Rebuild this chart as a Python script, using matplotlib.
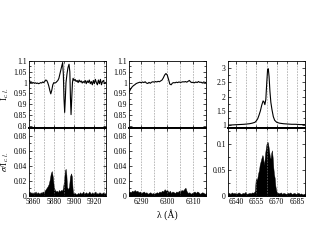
import numpy as np
import matplotlib
matplotlib.use("Agg")
import matplotlib.pyplot as plt
from matplotlib.ticker import MultipleLocator

plt.rcParams['font.family'] = ['Liberation Serif', 'DejaVu Serif']
plt.rcParams['mathtext.fontset'] = 'stix'

# ---------------- Panel 1 (Na D / He I region) ----------------
wl1_up = [5855, 5856, 5857, 5858, 5859, 5860, 5861, 5862, 5863, 5864, 5865, 5866, 5867, 5868,
          5869, 5870, 5871, 5872, 5873, 5874, 5875, 5876, 5877, 5878, 5879, 5880, 5881, 5882,
          5883, 5884, 5885, 5886, 5887, 5888, 5888.7, 5889.4, 5890, 5890.7, 5891.4, 5892, 5893,
          5894, 5895, 5895.8, 5896.4, 5897, 5897.7, 5898.4, 5899, 5900, 5901, 5902, 5903, 5904,
          5905, 5906, 5907, 5908, 5909, 5910, 5911, 5912, 5913, 5914, 5915, 5916, 5917, 5918,
          5919, 5920, 5921, 5922, 5923, 5924, 5925, 5926, 5927, 5928, 5929, 5930, 5931]
fl1_up = [1.005, 1.01, 1.0, 1.003, 0.998, 1.0, 0.997, 0.999, 0.996, 0.998, 0.995, 0.997, 1.0, 0.998,
          1.003, 1.0, 1.005, 1.012, 1.01, 1.0, 0.985, 0.965, 0.948, 0.965, 0.99, 1.0, 0.998, 1.0,
          1.005, 1.01, 1.02, 1.04, 1.06, 1.08, 1.092, 1.04, 0.93, 0.862, 0.93, 1.0, 1.04,
          1.07, 1.085, 1.05, 0.93, 0.852, 0.93, 1.0, 1.02, 1.01, 1.015, 1.005, 1.01, 1.0,
          1.012, 1.003, 1.008, 0.998, 1.005, 1.0, 1.01, 0.995, 1.008, 1.0, 1.012, 0.995, 1.005, 0.99,
          1.01, 0.995, 1.015, 1.0, 0.99, 1.012, 0.995, 1.015, 0.99, 1.005, 1.01, 0.995, 1.0]

wl1_lo = [5855, 5856, 5857, 5858, 5859, 5860, 5861, 5862, 5863, 5864, 5865, 5866, 5867, 5868,
          5869, 5870, 5871, 5872, 5873, 5874, 5875, 5876, 5877, 5878, 5879, 5880, 5881, 5882,
          5883, 5884, 5885, 5886, 5887, 5888, 5889, 5890, 5891, 5891.7, 5892.4, 5893, 5894, 5895,
          5896, 5897, 5897.8, 5898.5, 5899, 5900, 5901, 5902, 5903, 5904, 5905, 5906, 5907, 5908,
          5909, 5910, 5911, 5912, 5913, 5914, 5915, 5916, 5917, 5918, 5919, 5920, 5921, 5922,
          5923, 5924, 5925, 5926, 5927, 5928, 5929, 5930, 5931]
sg1_lo = [0.004, 0.006, 0.004, 0.005, 0.003, 0.005, 0.004, 0.006, 0.003, 0.005, 0.004, 0.003, 0.005, 0.004,
          0.006, 0.005, 0.007, 0.009, 0.011, 0.013, 0.016, 0.022, 0.030, 0.033, 0.025, 0.012, 0.008, 0.006,
          0.007, 0.005, 0.008, 0.006, 0.008, 0.007, 0.010, 0.020, 0.034, 0.036, 0.028, 0.012, 0.009, 0.012,
          0.026, 0.030, 0.026, 0.010, 0.004, 0.003, 0.004, 0.002, 0.003, 0.004, 0.003, 0.005, 0.003, 0.004,
          0.006, 0.003, 0.004, 0.005, 0.003, 0.004, 0.006, 0.004, 0.003, 0.005, 0.003, 0.004, 0.006, 0.003,
          0.004, 0.003, 0.005, 0.004, 0.003, 0.004, 0.005, 0.003, 0.004]

# ---------------- Panel 2 ([O I] 6300 region) ----------------
wl2 = [6285, 6285.5, 6286, 6286.5, 6287, 6287.5, 6288, 6288.5, 6289, 6289.5, 6290, 6290.5, 6291,
       6291.5, 6292, 6292.5, 6293, 6293.5, 6294, 6294.5, 6295, 6295.5, 6296, 6296.5, 6297, 6297.5,
       6298, 6298.5, 6299, 6299.5, 6300, 6300.5, 6301, 6301.5, 6302, 6302.5, 6303, 6303.5, 6304,
       6304.5, 6305, 6305.5, 6306, 6306.5, 6307, 6307.5, 6308, 6308.5, 6309, 6309.5, 6310, 6310.5,
       6311, 6311.5, 6312, 6312.5, 6313, 6313.5, 6314, 6314.5, 6315]
fl2_up = [0.95, 0.96, 0.972, 0.98, 0.986, 0.99, 0.995, 0.998, 1.0, 1.002, 0.999, 1.003, 1.0,
          1.004, 0.998, 0.996, 1.001, 0.997, 1.002, 1.004, 1.002, 1.005, 1.003, 1.006, 1.004, 1.008,
          1.012, 1.022, 1.035, 1.042, 1.035, 1.015, 0.993, 0.99, 0.998, 1.0, 0.999, 1.002, 1.0,
          1.003, 1.001, 1.002, 1.004, 1.003, 1.005, 1.002, 1.006, 1.01, 1.003, 1.0, 1.002, 0.999,
          1.003, 1.0, 1.005, 1.001, 1.002, 0.998, 1.003, 1.001, 1.0]
sg2_lo = [0.004, 0.006, 0.005, 0.007, 0.006, 0.008, 0.006, 0.007, 0.005, 0.006, 0.004, 0.005, 0.006,
          0.004, 0.005, 0.003, 0.004, 0.005, 0.003, 0.004, 0.003, 0.004, 0.005, 0.004, 0.006, 0.005,
          0.007, 0.006, 0.009, 0.007, 0.008, 0.005, 0.007, 0.004, 0.006, 0.005, 0.004, 0.006, 0.005,
          0.007, 0.006, 0.008, 0.007, 0.009, 0.011, 0.006, 0.004, 0.005, 0.003, 0.004, 0.005, 0.006,
          0.004, 0.006, 0.005, 0.003, 0.004, 0.005, 0.004, 0.003, 0.004]

# ---------------- Panel 3 (H-alpha region) ----------------
wl3_up = [6534, 6536, 6538, 6540, 6542, 6544, 6546, 6548, 6550, 6552, 6554, 6555, 6556, 6557,
          6558, 6559, 6560, 6560.6, 6561.3, 6562, 6562.7, 6563.3, 6563.8, 6564.4, 6565, 6565.7,
          6566.5, 6567.5, 6568.5, 6570, 6572, 6575, 6578, 6581, 6584, 6587, 6591]
fl3_up = [1.0, 1.005, 1.01, 1.015, 1.02, 1.025, 1.03, 1.04, 1.05, 1.07, 1.1, 1.15, 1.22, 1.35,
          1.5, 1.7, 1.85, 1.82, 1.72, 1.9, 2.5, 2.95, 2.98, 2.7, 2.2, 1.8,
          1.55, 1.3, 1.17, 1.1, 1.07, 1.05, 1.04, 1.03, 1.03, 1.02, 1.02]

wl3_lo = [6534, 6535, 6536, 6537, 6538, 6539, 6540, 6541, 6542, 6543, 6544, 6545, 6546, 6547,
          6548, 6549, 6550, 6551, 6552, 6553, 6554, 6554.5, 6555, 6555.5, 6556, 6556.5, 6557,
          6557.5, 6558, 6558.5, 6559, 6559.5, 6560, 6560.5, 6561, 6561.5, 6562, 6562.5, 6563,
          6563.5, 6564, 6564.5, 6565, 6565.5, 6566, 6566.5, 6567, 6567.5, 6568, 6568.5, 6569,
          6569.5, 6570, 6571, 6572, 6573, 6574, 6575, 6576, 6577, 6578, 6579, 6580, 6581, 6582,
          6583, 6584, 6585, 6586, 6587, 6588, 6589, 6590, 6591]
sg3_lo = [0.005, 0.006, 0.004, 0.007, 0.005, 0.006, 0.004, 0.005, 0.007, 0.005, 0.004, 0.006, 0.005, 0.008,
          0.004, 0.005, 0.006, 0.005, 0.007, 0.006, 0.010, 0.030, 0.034, 0.030, 0.038, 0.045, 0.050,
          0.060, 0.065, 0.070, 0.075, 0.079, 0.075, 0.060, 0.068, 0.082, 0.092, 0.100, 0.105,
          0.103, 0.095, 0.085, 0.075, 0.072, 0.083, 0.088, 0.075, 0.055, 0.042, 0.035, 0.020,
          0.012, 0.008, 0.006, 0.005, 0.007, 0.004, 0.006, 0.005, 0.004, 0.006, 0.005, 0.007, 0.004, 0.005,
          0.006, 0.004, 0.005, 0.006, 0.004, 0.005, 0.003, 0.004, 0.005]

panels = [
    dict(wu=wl1_up, fu=fl1_up, wd=wl1_lo, sd=sg1_lo, xlim=(5855.5, 5931.5), xmaj=20, xmin=10,
         ylu=(0.79, 1.1), yumaj=0.05, yumin=0.025, yld=(0, 0.09), ydmaj=0.02, ydmin=0.01),
    dict(wu=wl2, fu=fl2_up, wd=wl2, sd=sg2_lo, xlim=(6285.3, 6314.9), xmaj=10, xmin=5,
         ylu=(0.79, 1.1), yumaj=0.05, yumin=0.025, yld=(0, 0.09), ydmaj=0.02, ydmin=0.01),
    dict(wu=wl3_up, fu=fl3_up, wd=wl3_lo, sd=sg3_lo, xlim=(6534.2, 6590.8), xmaj=15, xmin=7.5,
         ylu=(0.9, 3.25), yumaj=0.5, yumin=0.25, yld=(0, 0.131), ydmaj=0.05, ydmin=0.025),
]

W, H = 317, 245
fig = plt.figure(figsize=(W / 100, H / 100), dpi=100)
lefts = [29, 129, 228]
width = 77
top, mid, bot = 61, 128, 196
fs = 5.5

for p, left in zip(panels, lefts):
    axu = fig.add_axes([left / W, (H - mid) / H, width / W, (mid - top) / H])
    axd = fig.add_axes([left / W, (H - bot) / H, width / W, (bot - mid) / H])
    axu.plot(p['wu'], p['fu'], color='black', lw=0.8)
    axd.fill_between(p['wd'], 0, p['sd'], color='black', lw=0.3)
    for ax, yl, ymaj, ymin in [(axu, p['ylu'], p['yumaj'], p['yumin']),
                               (axd, p['yld'], p['ydmaj'], p['ydmin'])]:
        ax.set_xlim(*p['xlim'])
        ax.set_ylim(*yl)
        ax.xaxis.set_major_locator(MultipleLocator(p['xmaj']))
        ax.xaxis.set_minor_locator(MultipleLocator(p['xmin']))
        ax.yaxis.set_major_locator(MultipleLocator(ymaj))
        ax.yaxis.set_minor_locator(MultipleLocator(ymin))
        ax.grid(True, which='both', axis='x', color='#888888', ls=(0, (3, 2)), lw=0.4)
        ax.tick_params(which='both', direction='in', top=True, right=True, labelsize=fs,
                       width=0.5, pad=1.5)
        ax.tick_params(which='major', length=2.5)
        ax.tick_params(which='minor', length=1.3)
        for s in ax.spines.values():
            s.set_linewidth(0.6)
        ax.yaxis.set_major_formatter(plt.FuncFormatter(lambda v, pos: ('%g' % round(v, 4))))
    axu.tick_params(labelbottom=False)
    axu.spines['bottom'].set_linewidth(1.4)
    axd.spines['top'].set_linewidth(1.4)
    if left == 29:
        axu.set_ylabel('I$_{c.l.}$', fontsize=6.5, labelpad=2)
        axd.set_ylabel('$\\sigma$/I$_{c.l.}$', fontsize=6.5, labelpad=2)
    if left == 129:
        axd.set_xlabel('λ (Å)', fontsize=7, labelpad=2)

fig.savefig('out.png', dpi=100)
